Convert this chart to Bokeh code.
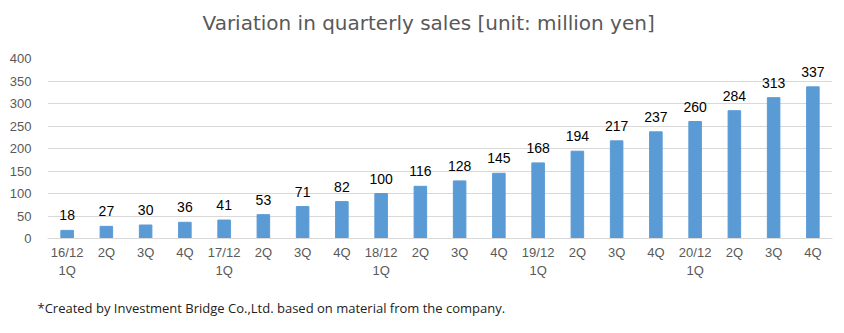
from bokeh.plotting import figure
from bokeh.models import Range1d, FixedTicker, Title, ColumnDataSource
from bokeh.core.properties import value
from bokeh.embed import file_html
from bokeh.resources import INLINE

categories = ["16/12\n1Q", "2Q", "3Q", "4Q", "17/12\n1Q", "2Q", "3Q", "4Q",
              "18/12\n1Q", "2Q", "3Q", "4Q", "19/12\n1Q", "2Q", "3Q", "4Q",
              "20/12\n1Q", "2Q", "3Q", "4Q"]
sales = [18, 27, 30, 36, 41, 53, 71, 82, 100, 116, 128, 145, 168, 194, 217,
         237, 260, 284, 313, 337]
y_ticks = [0, 50, 100, 150, 200, 250, 300, 350, 400]

idx = list(range(len(categories)))
src = ColumnDataSource(dict(x=idx, top=sales, lab=[str(v) for v in sales]))

p = figure(width=844, height=333, output_backend="svg", toolbar_location=None,
           x_range=Range1d(-0.5, len(categories) - 0.5), y_range=Range1d(0, 400),
           min_border_left=47, min_border_right=12, min_border_top=58,
           min_border_bottom=94)
p.outline_line_color = None
p.background_fill_color = "white"
p.border_fill_color = "white"

p.vbar(x="x", top="top", width=0.32, source=src, color="#5b9bd5")
p.text(x="x", y="top", text="lab", source=src, text_align="center",
       text_baseline="bottom", y_offset=-10, text_font_size="14px",
       text_color="#000000", text_font=value("Liberation Sans"))

p.title.visible = False
spacer_top = Title(text=" ", text_font_size="1px", standoff=21)
p.add_layout(spacer_top, "above")
t = Title(text="Variation in quarterly sales [unit: million yen]", align="left",
          text_font_size="20px", text_font_style="normal", text_color="#595959",
          text_font="DejaVu Sans", offset=155, standoff=0)
p.add_layout(t, "above")

note = Title(text="*Created by Investment Bridge Co.,Ltd. based on material from the company.",
             align="left", text_font_size="13px", text_font_style="normal",
             text_color="#222222", text_font="Open Sans", offset=-10, standoff=33)
p.add_layout(note, "below")

p.xaxis.ticker = FixedTicker(ticks=idx)
p.xaxis.major_label_overrides = {i: c for i, c in enumerate(categories)}
p.xaxis.major_tick_line_color = None
p.xaxis.minor_tick_line_color = None
p.xaxis.axis_line_color = "#d9d9d9"
p.xaxis.major_label_text_color = "#595959"
p.xaxis.major_label_text_font_size = "13px"
p.xaxis.major_label_text_font = "Liberation Sans"
p.xaxis.major_label_standoff = 0
p.xgrid.grid_line_color = None

p.yaxis.ticker = FixedTicker(ticks=y_ticks)
p.yaxis.major_tick_line_color = None
p.yaxis.minor_tick_line_color = None
p.yaxis.axis_line_color = None
p.yaxis.major_label_text_color = "#595959"
p.yaxis.major_label_text_font_size = "13px"
p.yaxis.major_label_text_font = "Liberation Sans"
p.yaxis.major_label_standoff = 10
p.ygrid.grid_line_color = "#d9d9d9"
p.ygrid.grid_line_width = 1

open("out.html", "w").write(file_html(p, INLINE))
